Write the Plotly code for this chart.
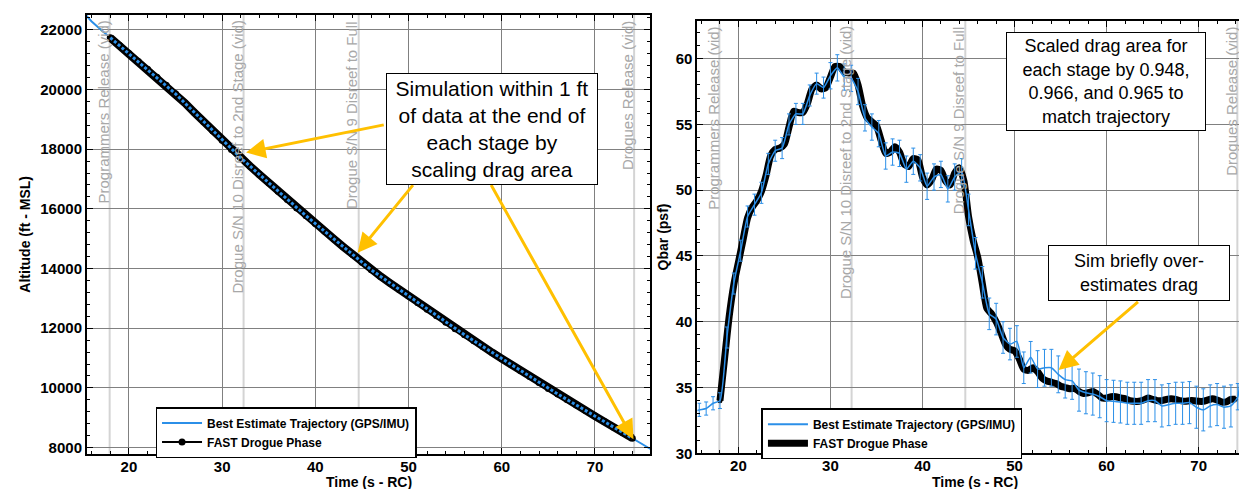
import plotly.graph_objects as go

FONT = "Liberation Sans, Arial, Helvetica, sans-serif"
BLUE = "#2b8fe8"
GOLD = "#FFC000"

# ---------------- Altitude panel data ----------------
alt_time = list(range(15, 77))
bet_alt = [22620, 22280, 22000, 21734, 21469, 21203, 20938, 20672, 20406, 20141,
           19854, 19543, 19232, 18921, 18610, 18299, 17989, 17709, 17429, 17149,
           16869, 16589, 16309, 16029, 15766, 15506, 15247, 14987, 14727, 14467,
           14208, 13956, 13736, 13516, 13297, 13077, 12857, 12637, 12418, 12198,
           11980, 11780, 11580, 11380, 11180, 10980, 10780, 10580, 10380, 10180,
           9981, 9796, 9611, 9426, 9241, 9056, 8871, 8686, 8501, 8316, 8131, 7946]

fast_alt_time = list(range(18, 75))
fast_alt = [21736, 21470, 21205, 20940, 20675, 20409, 20143, 19857, 19546, 19235,
            18924, 18612, 18301, 17990, 17712, 17432, 17152, 16872, 16591, 16311,
            16031, 15768, 15508, 15249, 14989, 14729, 14468, 14209, 13958, 13738,
            13518, 13298, 13078, 12858, 12638, 12419, 12199, 11981, 11781, 11581,
            11381, 11181, 10981, 10781, 10581, 10381, 10181, 9982, 9797, 9612,
            9427, 9242, 9057, 8872, 8687, 8502, 8317]

# ---------------- Qbar panel data ----------------
bet_q_time = [15.0, 15.75, 16.5, 17.25, 18.0, 18.75, 19.5, 20.25, 21.0, 21.75,
              22.5, 23.25, 24.0, 24.75, 25.5, 26.25, 27.0, 27.75, 28.5, 29.25,
              30.0, 30.75, 31.5, 32.25, 33.0, 33.75, 34.5, 35.25, 36.0, 36.75,
              37.5, 38.25, 39.0, 39.75, 40.5, 41.25, 42.0, 42.75, 43.5, 44.25,
              45.0, 45.75, 46.5, 47.25, 48.0, 48.75, 49.5, 50.25, 51.0, 51.75,
              52.5, 53.25, 54.0, 54.75, 55.5, 56.25, 57.0, 57.75, 58.5, 59.25,
              60.0, 60.75, 61.5, 62.25, 63.0, 63.75, 64.5, 65.25, 66.0, 66.75,
              67.5, 68.25, 69.0, 69.75, 70.5, 71.25, 72.0, 72.75, 73.5, 74.25,
              75.0, 75.75, 76.5]
bet_q = [33.1, 33.3, 33.4, 33.8, 34.0, 38.8, 42.9, 45.4, 48.0, 48.9,
         49.8, 52.0, 53.0, 53.2, 55.0, 55.8, 55.8, 57.2, 58.1, 57.8,
         58.7, 59.3, 58.6, 58.5, 57.5, 55.5, 54.8, 54.3, 52.6, 52.9,
         52.8, 51.6, 52.2, 51.7, 50.3, 51.0, 51.2, 50.1, 51.0, 51.4,
         48.5, 45.2, 43.0, 40.6, 40.2, 38.8, 38.3, 38.5, 36.5, 37.3,
         36.4, 36.5, 36.5, 36.0, 35.6, 35.5, 34.8, 34.6, 34.5, 34.3,
         34.0, 33.95, 33.9, 33.8, 33.8, 33.8, 34.0, 34.0, 33.6, 33.7,
         33.8, 33.8, 33.85, 33.5, 33.3, 33.6, 33.7, 33.5, 33.6, 34.3,
         40.3, 46.9, 51.5]
bet_q_err = [0.5, 0.5, 0.5, 0.5, 0.6, 0.8, 0.8, 0.8, 0.8, 0.8,
             0.8, 0.8, 0.8, 0.8, 0.8, 0.8, 0.8, 0.8, 0.8, 0.8,
             1.0, 1.0, 1.0, 1.0, 1.0, 1.0, 1.0, 1.0, 1.0, 1.0,
             1.0, 1.0, 1.0, 1.0, 1.0, 1.0, 1.0, 1.0, 1.0, 1.0,
             1.2, 1.2, 1.2, 1.2, 1.2, 1.2, 1.2, 1.2, 1.2, 1.2,
             1.4, 1.4, 1.4, 1.4, 1.4, 1.4, 1.6, 1.6, 1.6, 1.6,
             1.6, 1.6, 1.6, 1.6, 1.6, 1.6, 1.6, 1.6, 1.6, 1.6,
             1.6, 1.6, 1.6, 1.6, 1.6, 1.6, 1.6, 1.6, 1.6, 1.0,
             1.0, 1.0, 1.0]

fast_q_time = [18 + 0.5 * i for i in range(113)]
fast_q = [34.0, 37.2, 40.4, 42.8, 44.5, 46.2, 47.9, 48.7, 49.2, 49.9,
          51.1, 52.6, 53.1, 53.2, 53.5, 54.8, 56.0, 55.9, 55.9, 56.6,
          57.7, 58.0, 57.7, 57.8, 58.6, 59.4, 59.4, 59.0, 58.9, 58.9,
          58.0, 56.4, 55.5, 55.2, 54.9, 53.8, 52.8, 52.9, 53.3, 52.9,
          52.0, 51.8, 52.4, 52.3, 51.0, 50.4, 50.8, 51.6, 51.5, 50.7,
          50.4, 51.3, 51.7, 50.7, 48.0, 46.2, 44.9, 42.9, 41.0, 40.6,
          40.0, 39.2, 38.3, 37.9, 37.8, 37.2, 36.4, 36.3, 36.5, 36.2,
          35.7, 35.5, 35.4, 35.3, 35.1, 35.0, 34.9, 34.95, 34.7, 34.55,
          34.6, 34.7, 34.5, 34.2, 34.2, 34.3, 34.3, 34.2, 34.15, 34.0,
          33.95, 33.95, 34.05, 34.2, 34.1, 34.0, 34.0, 34.1, 34.15, 34.1,
          34.0, 33.95, 34.0, 34.0, 33.95, 33.95, 34.05, 34.15, 34.05, 33.9,
          33.9, 34.1, 34.1]

# ---------------- Events ----------------
event_times = [17.93, 32.3, 44.65, 74.2]
event_labels = ["Programmers Release (vid)",
                "Drogue S/N 10 Disreef to 2nd Stage (vid)",
                "Drogue S/N 9 Disreef to Full",
                "Drogues Release (vid)"]

BET_NAME = "<b>Best Estimate Trajectory (GPS/IMU)</b>"
FAST_NAME = "<b>FAST Drogue Phase</b>"

fig = go.Figure()

# ---- left panel traces ----
fig.add_trace(go.Scatter(x=alt_time, y=bet_alt, mode="lines",
                         line=dict(color=BLUE, width=2), name=BET_NAME,
                         xaxis="x", yaxis="y", legend="legend"))
fig.add_trace(go.Scatter(x=fast_alt_time, y=fast_alt, mode="lines",
                         line=dict(color="black", width=8), showlegend=False,
                         xaxis="x", yaxis="y", hoverinfo="skip"))
fig.add_trace(go.Scatter(x=fast_alt_time, y=fast_alt, mode="lines+markers",
                         line=dict(color="black", width=2),
                         marker=dict(color="black", size=7), name=FAST_NAME,
                         xaxis="x", yaxis="y", legend="legend"))
fig.add_trace(go.Scatter(x=alt_time[3:60], y=bet_alt[3:60], mode="lines",
                         line=dict(color=BLUE, width=3, dash="3px,2px"),
                         showlegend=False, xaxis="x", yaxis="y", hoverinfo="skip"))

# ---- right panel traces ----
fig.add_trace(go.Scatter(x=fast_q_time, y=fast_q, mode="lines+markers",
                         line=dict(color="black", width=7, shape="spline", smoothing=0.6),
                         marker=dict(color="black", size=5), name=FAST_NAME,
                         legendrank=2, xaxis="x2", yaxis="y2", legend="legend2"))
fig.add_trace(go.Scatter(x=bet_q_time, y=bet_q, mode="lines",
                         line=dict(color=BLUE, width=1.5, shape="spline", smoothing=0.5),
                         error_y=dict(type="data", array=bet_q_err, color=BLUE,
                                      thickness=1, width=2),
                         showlegend=False, xaxis="x2", yaxis="y2"))
# legend entry for the blue series (line only, like the reference legend)
fig.add_trace(go.Scatter(x=[None], y=[None], mode="lines",
                         line=dict(color=BLUE, width=2), name=BET_NAME,
                         legendrank=1, xaxis="x2", yaxis="y2", legend="legend2"))

tickfont = dict(family=FONT, size=15, color="black", weight="bold")
titlefont = dict(family=FONT, size=14, color="black", weight="bold")


def axis(**kw):
    d = dict(showline=True, linecolor="black", linewidth=2, mirror="ticks",
             ticks="inside", ticklen=6, tickwidth=1, tickcolor="black",
             showgrid=True, gridcolor="#808080", gridwidth=1, zeroline=False,
             tickfont=tickfont, tickformat="d",
             tickprefix="<b>", ticksuffix="</b>")
    d.update(kw)
    return d


shapes = []
annotations = []
for xa, ya in (("x", "y"), ("x2", "y2")):
    for t, lab in zip(event_times, event_labels):
        shapes.append(dict(type="line", xref=xa, yref=ya + " domain", x0=t, x1=t,
                           y0=0, y1=1, line=dict(color="#d4d4d4", width=2),
                           layer="below"))
        annotations.append(dict(xref=xa, yref=ya + " domain", x=t, y=1,
                                text=lab, textangle=-90, showarrow=False,
                                xanchor="right", yanchor="top", xshift=4, yshift=-4,
                                font=dict(family=FONT, size=15, color="#a8a8a8")))

arrow = dict(text="", showarrow=True, arrowhead=2, arrowsize=1.3, arrowwidth=3,
             arrowcolor=GOLD, standoff=0)
for (tx, ty, hx, hy) in [(47.5, 18824, 32.57, 17888),
                         (50.6, 16847, 44.54, 14527),
                         (58.77, 16847, 74.13, 8277)]:
    annotations.append(dict(xref="x", yref="y", axref="x", ayref="y",
                            x=hx, y=hy, ax=tx, ay=ty, **arrow))
annotations.append(dict(xref="x2", yref="y2", axref="x2", ayref="y2",
                        x=54.78, y=36.32, ax=63.57, ay=41.6, **arrow))

box = dict(showarrow=False, bgcolor="white", bordercolor="black", borderwidth=1,
           borderpad=1, align="center")
annotations.append(dict(xref="x", yref="y", x=58.9, y=18685,
                        text="Simulation within 1 ft<br>of data at the end of<br>each stage by<br>scaling drag area",
                        font=dict(family=FONT, size=21, color="black"),
                        width=208, height=108, **box))
annotations.append(dict(xref="x2", yref="y2", x=59.9, y=58.27,
                        text="Scaled drag area for<br>each stage by 0.948,<br>0.966, and 0.965 to<br>match trajectory",
                        font=dict(family=FONT, size=18, color="black"),
                        width=196, height=95, **box))
annotations.append(dict(xref="x2", yref="y2", x=63.5, y=43.68,
                        text="Sim briefly over-<br>estimates drag",
                        font=dict(family=FONT, size=18, color="black"),
                        width=178, height=52, **box))

# axis titles
for (tx, ty, txt, ang) in [(0.2895, 0.0143, "Time (s - RC)", 0),
                           (0.7763, 0.0143, "Time (s - RC)", 0),
                           (0.0140, 0.5297, "Altitude (ft - MSL)", -90),
                           (0.5253, 0.5241, "Qbar (psf)", -90)]:
    annotations.append(dict(xref="paper", yref="paper", x=tx, y=ty, text=txt,
                            textangle=ang, showarrow=False, xanchor="center",
                            yanchor="middle", font=titlefont))

legend_common = dict(xanchor="left", yanchor="top", bgcolor="white",
                     bordercolor="black", borderwidth=1.5,
                     font=dict(family=FONT, size=12, color="black"),
                     itemwidth=40, tracegroupgap=0)

fig.update_layout(
    width=1247, height=489,
    margin=dict(l=0, r=0, t=0, b=0),
    paper_bgcolor="white", plot_bgcolor="white",
    xaxis=axis(domain=[0.0634, 0.5156], range=[15.5, 75.95], anchor="y",
               tick0=0, dtick=10, ticklabelstandoff=-2,
               minor=dict(tick0=0, dtick=2, ticks="inside", ticklen=3,
                          tickcolor="black", showgrid=False)),
    yaxis=axis(domain=[0.0736, 0.9857], range=[7800, 22500], anchor="x",
               tick0=0, dtick=2000,
               minor=dict(tick0=0, dtick=400, ticks="inside", ticklen=3,
                          tickcolor="black", showgrid=False)),
    xaxis2=axis(domain=[0.5533, 0.9992], range=[15.55, 75.9], anchor="y2",
                tick0=0, dtick=10, ticklabelstandoff=-2,
                minor=dict(tick0=0, dtick=2, ticks="inside", ticklen=3,
                           tickcolor="black", showgrid=False)),
    yaxis2=axis(domain=[0.0743, 0.974], range=[30, 62.9], anchor="x2",
                tick0=0, dtick=5,
                minor=dict(tick0=0, dtick=1, ticks="inside", ticklen=3,
                           tickcolor="black", showgrid=False)),
    legend=dict(x=0.1184, y=0.1704, **legend_common),
    legend2=dict(x=0.6047, y=0.1677, **legend_common),
    shapes=shapes,
    annotations=annotations,
    showlegend=True,
)

fig.write_html("out.html")
